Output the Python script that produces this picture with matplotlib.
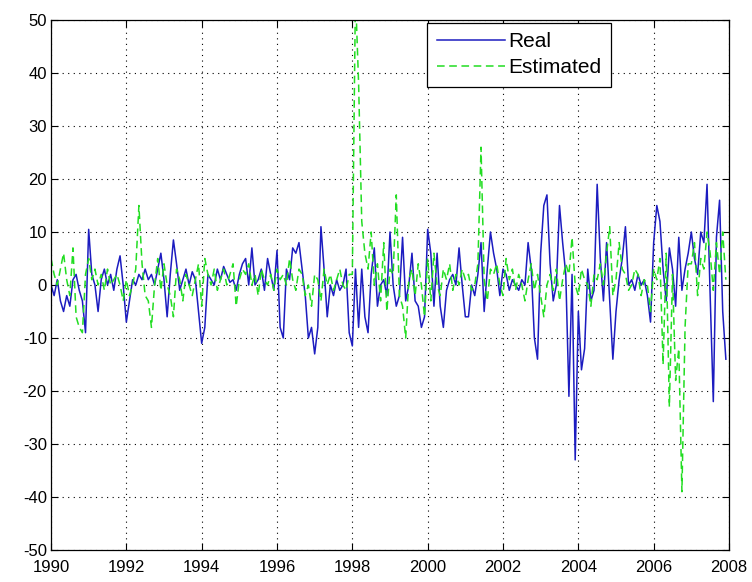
import matplotlib.pyplot as plt
import numpy as np

plt.rcParams['font.family'] = ['Liberation Sans', 'DejaVu Sans']
plt.rcParams['axes.unicode_minus'] = False

START_YEAR = 1990

# monthly values, one row per year (Jan..Dec), 1990-2007
real = [
    0, -2, 1, -3, -5, -2, -4, 1, 2, -1, -3, -9,          # 1990
    10.5, 2, 0, -5, 1, 3, 0, 2, -1, 3, 5.5, 0,           # 1991
    -7, -3, 1, 0, 2, 1, 3, 1, 2, 0, 3, 6,                # 1992
    1, -6, 2, 8.5, 4, -1, 1, 3, 0, 2.5, 1, -5,           # 1993
    -11, -8, 2, 1, 0, 3, 1, 3.5, 2, 0.5, 1, -1,          # 1994
    2, 4, 5, 0, 7, 0, 1, 3, -1, 5, 2, -1,                # 1995
    6.5, -8, -10, 3, 1, 7, 6, 8, 3, -2, -10, -8,         # 1996
    -13, -8, 11, 3, -6, 0, -2, 1, -1, 0, 3, -9,          # 1997
    -11.5, 3, -8, 3, -6, -9, 2, 7, -4, 0, 1, -2,         # 1998
    10, 0, -4, -2, 9, -3, 0, 6, -3, -4, -8, -6,          # 1999
    10.5, 6, -4, 6, -4, -8, -1, 1, 2, 0, 7, 0,           # 2000
    -6, -6, 0, -2, 2, 8, -5, 3, 10, 6, 3, -2,            # 2001
    3, 2, -1, 1, 0, -1, 1, 0, 8, 3, -10, -14,            # 2002
    6, 15, 17, 4, -3, 0, 15, 8, 2, -21, 2, -33,          # 2003
    -5, -16, -12, 3, -3, -1, 19, 5, -3, 8, -3, -14,      # 2004
    -5, 1, 5, 11, 0, 1, -1, 2, 0, 1, -2, -7,             # 2005
    8, 15, 12, 3, -3, 7, 3, -4, 9, -1, 3, 6,             # 2006
    10, 5, 2, 10, 8, 19, -2, -22, 9, 16, -5, -14,        # 2007
]

estimated = [
    5, 2, 0, 3, 6, 1, -2, 7, -6, -8, -9, 2,              # 1990
    5, 1, 3, 0, 2, -1, 3, 0, 1, 2, 0, -3,                # 1991
    1, -2, 0, 3, 15, 4, -2, -3, -8, 0, 5, -1,            # 1992
    4, 0, -2, -6, 3, 1, -3, 2, 0, -2, 1, 4,              # 1993
    -4, 5, 2, 0, 3, -1, 1, 3, 0, 2, 4, -4,               # 1994
    1, 3, 2, 4, 0, 2, -2, 3, 1, 0, 2, -1,                # 1995
    3, 1, 2, 0, 5, 1, -1, 3, 2, -2, 0, -4,               # 1996
    2, 1, -3, 3, 0, 2, -1, 1, 3, 0, -1, 2,               # 1997
    2, 55, 38, 12, 6, 3, 10, 0, 4, -3, 8, -5,            # 1998
    3, 2, 17, -2, -4, -10, 1, 3, -2, 4, 0, -6,           # 1999
    5, -3, 6, 0, -2, 3, 1, 4, -1, 2, 0, 3,               # 2000
    1, 2, -1, 0, 4, 26, 1, -3, 3, 2, 4, 0,               # 2001
    -2, 5, 1, 3, -1, 2, 0, -3, 1, 4, -1, 2,              # 2002
    -2, -6, 0, 2, -1, 3, -3, 1, 4, 2, 9, 0,              # 2003
    -2, 3, 1, 0, -4, 2, 1, 4, 0, 6, 11, -2,              # 2004
    1, 8, 3, 2, -1, 0, 3, 2, -2, 1, 0, -5,               # 2005
    3, 1, 5, -15, 6, -23, 2, -18, -12, -39, -8, 4,       # 2006
    4, 8, -2, 5, 3, 10, 6, -1, 8, 2, 10, 1,              # 2007
]

t = START_YEAR + np.arange(len(real)) / 12.0

fig = plt.figure(figsize=(7.52, 5.82), dpi=100)
ax = fig.add_axes([51 / 752, 32 / 582, 678 / 752, 530 / 582])

ax.plot(t, real, '-', color='#1c1cc0', lw=1.1, label='Real')
ax.plot(t, estimated, '--', color='#22dd22', lw=1.1, dashes=(5, 3), label='Estimated')

ax.set_xlim(1990, 2008)
ax.set_ylim(-50, 50)
ax.set_xticks(np.arange(1990, 2009, 2))
ax.set_yticks(np.arange(-50, 51, 10))
ax.grid(True, color='black', linestyle=(0, (1, 4)), linewidth=0.8)
ax.tick_params(direction='in', length=5, top=True, right=True, labelsize=12)
ax.tick_params(axis='x', pad=7)
ax.tick_params(axis='y', pad=3)
for sp in ax.spines.values():
    sp.set_linewidth(0.9)

leg = ax.legend(loc='upper right', bbox_to_anchor=(0.826, 0.995), fontsize=15,
                fancybox=False, framealpha=1, edgecolor='black', handlelength=3.3,
                borderaxespad=0, labelspacing=0.35, handletextpad=0.15,
                borderpad=0.45)
leg.get_frame().set_linewidth(0.9)

fig.savefig('out.png', dpi=100)
